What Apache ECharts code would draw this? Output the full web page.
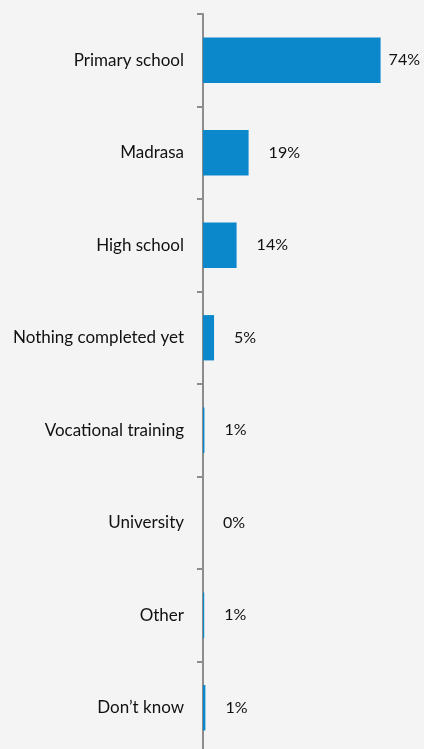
<!DOCTYPE html>
<html>
<head>
<meta charset="utf-8">
<script src="https://cdn.jsdelivr.net/npm/echarts@6/dist/echarts.min.js"></script>
<style>
  html, body { margin: 0; padding: 0; background: #f4f4f4; overflow: hidden; }
  #main { width: 424px; height: 754px; }
</style>
</head>
<body>
<div id="main"></div>
<script>
  // categories, top to bottom
  var categories = ['Primary school', 'Madrasa', 'High school', 'Nothing completed yet',
                    'Vocational training', 'University', 'Other', 'Don\u2019t know'];
  // bar lengths (%)
  var values = [74, 19, 14, 4.6, 0.6, 0, 0.5, 1];
  // printed labels
  var valueLabels = ['74%', '19%', '14%', '5%', '1%', '0%', '1%', '1%'];

  var myChart = echarts.init(document.getElementById('main'));

  var seriesData = values.map(function (v, i) {
    return {
      value: v,
      label: { distance: i === 0 ? 8 : 20 }
    };
  });

  var option = {
    backgroundColor: '#f4f4f4',
    animation: false,
    grid: { left: 203, right: 29, top: 14, bottom: 0 },
    xAxis: {
      type: 'value',
      min: 0,
      max: 80,
      show: false
    },
    yAxis: {
      type: 'category',
      inverse: true,
      data: categories,
      axisLine: { show: true, lineStyle: { color: '#8c8c8c', width: 2 } },
      axisTick: { show: true, length: 6, lineStyle: { color: '#8c8c8c', width: 2 } },
      axisLabel: {
        margin: 19,
        color: '#111111',
        fontFamily: 'Lato',
        fontSize: 17,
        padding: [5, 0, 0, 0]
      },
      splitLine: { show: false }
    },
    series: [
      {
        type: 'bar',
        data: seriesData,
        barCategoryGap: '51%',
        itemStyle: { color: '#0a88cb' },
        label: {
          show: true,
          position: 'right',
          color: '#111111',
          fontFamily: 'Lato',
          fontSize: 16,
          padding: [5, 0, 0, 0],
          formatter: function (p) { return valueLabels[p.dataIndex]; }
        }
      }
    ]
  };
  myChart.setOption(option);
</script>
</body>
</html>
